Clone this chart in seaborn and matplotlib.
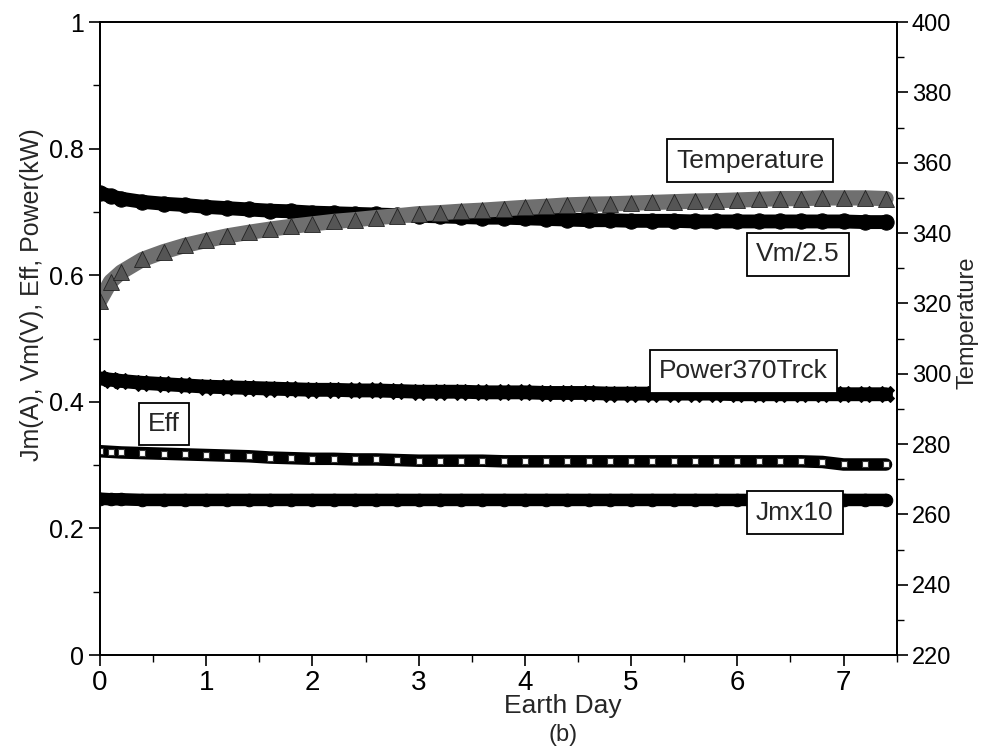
import numpy as np
import pandas as pd
import seaborn as sns
import matplotlib.pyplot as plt
from matplotlib.ticker import MultipleLocator

# values (left axis unless noted)
days = [0.0, 0.1, 0.2, 0.4, 0.6, 0.8, 1.0, 1.2, 1.4, 1.6, 1.8, 2.0, 2.2, 2.4, 2.6,
        2.8, 3.0, 3.2, 3.4, 3.6, 3.8, 4.0, 4.2, 4.4, 4.6, 4.8, 5.0, 5.2, 5.4, 5.6,
        5.8, 6.0, 6.2, 6.4, 6.6, 6.8, 7.0, 7.2, 7.4]
temperature = [320.8, 326.2, 328.9, 332.5, 334.7, 336.5, 337.9, 339.2, 340.2, 341.1,
               341.9, 342.6, 343.3, 343.8, 344.4, 344.9, 345.5, 345.8, 346.2, 346.5,
               346.9, 347.3, 347.6, 348.0, 348.2, 348.3, 348.5, 348.7, 348.9, 349.1,
               349.2, 349.4, 349.6, 349.8, 349.8, 350.0, 350.0, 350.0, 349.8]  # right axis (K)
vm = [0.730, 0.725, 0.721, 0.716, 0.713, 0.711, 0.708, 0.706, 0.704, 0.702, 0.701,
      0.699, 0.698, 0.697, 0.696, 0.695, 0.694, 0.693, 0.692, 0.691, 0.691, 0.690,
      0.689, 0.688, 0.687, 0.687, 0.686, 0.686, 0.686, 0.685, 0.685, 0.685, 0.685,
      0.685, 0.685, 0.685, 0.685, 0.684, 0.684]
power = [0.437, 0.435, 0.433, 0.430, 0.428, 0.426, 0.424, 0.423, 0.422, 0.421, 0.420,
         0.419, 0.419, 0.418, 0.418, 0.417, 0.416, 0.416, 0.416, 0.415, 0.415, 0.415,
         0.414, 0.414, 0.414, 0.413, 0.413, 0.413, 0.413, 0.413, 0.413, 0.412, 0.412,
         0.412, 0.412, 0.412, 0.412, 0.412, 0.412]
eff = [0.322, 0.321, 0.320, 0.319, 0.318, 0.317, 0.316, 0.315, 0.314, 0.312, 0.311,
       0.310, 0.310, 0.309, 0.309, 0.308, 0.307, 0.307, 0.307, 0.307, 0.306, 0.306,
       0.306, 0.306, 0.306, 0.306, 0.306, 0.306, 0.306, 0.306, 0.306, 0.306, 0.306,
       0.306, 0.306, 0.305, 0.301, 0.301, 0.301]
jm = [0.247, 0.246, 0.246] + [0.245] * 36

labels = {"Temperature": (6.12, 0.781), "Vm/2.5": (6.57, 0.633),
          "Power370Trck": (6.06, 0.448), "Eff": (0.6, 0.365), "Jmx10": (6.54, 0.225)}

df = pd.DataFrame({"day": days, "T": temperature, "Vm": vm, "P": power, "Eff": eff, "Jm": jm})

sns.set_style("ticks")
plt.rcParams["font.family"] = ["Liberation Sans", "DejaVu Sans"]

fig = plt.figure(figsize=(9.86, 7.49), dpi=100)
ax = fig.add_axes([0.1014, 0.1255, 0.808, 0.845])
ax2 = ax.twinx()

sns.lineplot(data=df, x="day", y="Vm", ax=ax, color="black", linewidth=10,
             marker="o", markersize=11, markeredgecolor="black")
sns.lineplot(data=df, x="day", y="P", ax=ax, color="black", linewidth=10,
             marker="X", markersize=12, markeredgecolor="black")
sns.lineplot(data=df, x="day", y="Eff", ax=ax, color="black", linewidth=9,
             marker="s", markersize=5, markerfacecolor="white",
             markeredgecolor="#333333", markeredgewidth=0.8)
sns.lineplot(data=df, x="day", y="Jm", ax=ax, color="black", linewidth=9,
             marker="o", markersize=9, markeredgecolor="black")
sns.lineplot(data=df, x="day", y="T", ax=ax2, color="#6f6f6f", linewidth=11,
             marker="^", markersize=11, markerfacecolor="#555555",
             markeredgecolor="#222222", markeredgewidth=0.6)

for name, (x, y) in labels.items():
    ax.text(x, y, name, ha="center", va="center", fontsize=19, zorder=10,
            bbox=dict(boxstyle="square,pad=0.35", fc="white", ec="black", lw=1.3))

ax.set_xlim(0, 7.5)
ax.set_ylim(0, 1)
ax2.set_ylim(220, 400)
ax.xaxis.set_major_locator(MultipleLocator(1))
ax.xaxis.set_minor_locator(MultipleLocator(0.5))
ax.yaxis.set_minor_locator(MultipleLocator(0.1))
ax2.yaxis.set_major_locator(MultipleLocator(20))
ax2.yaxis.set_minor_locator(MultipleLocator(10))
ax.set_yticks([0, 0.2, 0.4, 0.6, 0.8, 1.0])
ax.set_yticklabels(["0", "0.2", "0.4", "0.6", "0.8", "1"])

for a in (ax, ax2):
    for s in a.spines.values():
        s.set_visible(True)
        s.set_linewidth(1.3)
        s.set_color("black")
ax.tick_params(axis="both", which="major", direction="out", length=8, width=1.2,
               colors="black", labelsize=18, top=False)
ax.tick_params(axis="x", which="major", labelsize=20, pad=3)
ax.tick_params(axis="both", which="minor", direction="out", length=5, width=1.0,
               colors="black", top=False)
ax2.tick_params(axis="y", which="major", direction="out", length=8, width=1.2,
                colors="black", labelsize=17, pad=3)
ax2.tick_params(axis="y", which="minor", direction="out", length=5, width=1.0, colors="black")

ax.set_xlabel("")
ax.set_ylabel("Jm(A), Vm(V), Eff, Power(kW)", fontsize=18)
ax.yaxis.set_label_coords(-0.07, 0.57)
ax2.set_ylabel("Temperature", fontsize=17)
ax2.yaxis.set_label_coords(1.075, 0.525)
fig.text(0.571, 0.057, "Earth Day", ha="center", va="center", fontsize=19)
fig.text(0.571, 0.019, "(b)", ha="center", va="center", fontsize=17)

fig.savefig("out.png", dpi=100)
